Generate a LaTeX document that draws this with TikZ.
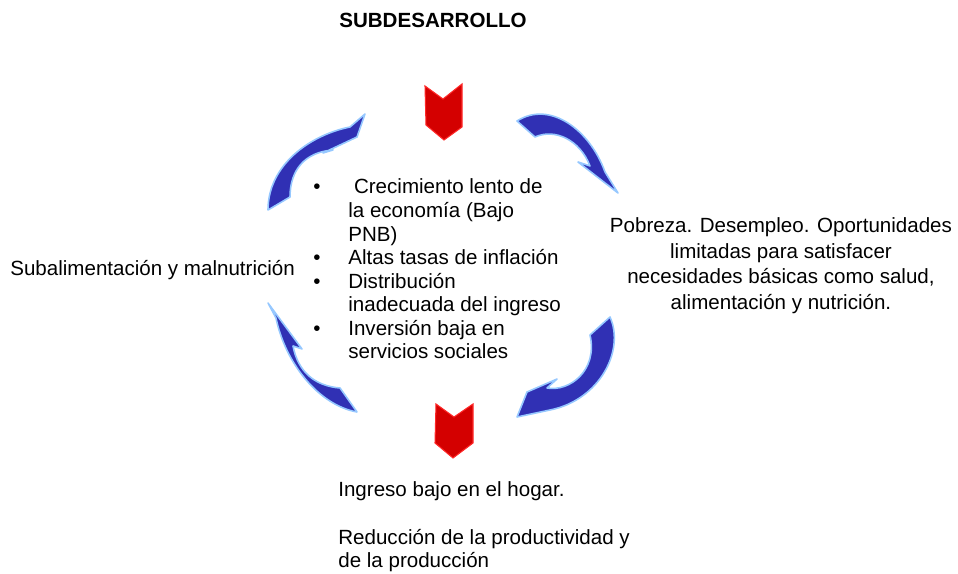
\documentclass[tikz,border=0pt]{standalone}
\usepackage{fontspec}
\setmainfont{Liberation Sans}
\usepackage{tikz}
\usetikzlibrary{positioning}
\definecolor{cyclefill}{RGB}{48,48,180}
\definecolor{cycleedge}{RGB}{150,200,255}
\definecolor{chevronred}{RGB}{212,0,0}
\definecolor{chevronedge}{RGB}{255,40,40}

\begin{document}
\begin{tikzpicture}[
    x=0.02cm, y=-0.02cm,
    txt/.style={inner sep=0pt, font=\fontsize{11.7}{13.4}\selectfont},
    curvedarrow/.style={fill=cyclefill, draw=cycleedge, line width=0.9pt, line join=round},
    chevron/.style={fill=chevronred, draw=chevronedge, line width=0.6pt}
]
    \useasboundingbox (0,0) rectangle (958,574);

    % Title
    \node[txt, font=\fontsize{11.7}{13.4}\selectfont\bfseries, anchor=base] (title) at (433,28) {SUBDESARROLLO};

    % Chevrons
    \draw[chevron] (425,86) -- (443,99) -- (462,84) -- (462,127) -- (444,140) -- (426,125) -- cycle;
    \draw[chevron] (436,404) -- (454,417) -- (473,404) -- (473,443) -- (453,458) -- (435,443) -- cycle;

    % Curved arrows of the cycle
    \draw[curvedarrow] (517,121) .. controls (550,100) and (590,130) .. (605,172) -- (618,193) -- (578,162) -- (590,166) .. controls (580,140) and (555,128) .. (535,137) -- cycle;
    \draw[curvedarrow] (610,317) .. controls (625,350) and (600,400) .. (550,410) -- (517,417) -- (527,392) -- (557,379) -- (547,388) .. controls (570,392) and (598,370) .. (590,335) -- cycle;
    \draw[curvedarrow] (357,412) .. controls (318,405) and (285,362) .. (276,318) -- (268,303) -- (302,349) -- (293,346) .. controls (298,372) and (315,386) .. (340,388) -- cycle;
    \draw[curvedarrow] (268,210) .. controls (268,165) and (310,135) .. (350,127) -- (365,114) -- (357,137) -- (323,153) -- (333,150) .. controls (305,152) and (290,170) .. (290,197) -- cycle;

    % Texts
    \node[txt, anchor=base west] (causes) at (313,194) {\begin{tabular}[t]{@{}p{0.7cm}@{}l@{}}
        \textbullet & \ Crecimiento lento de\\
                    & la economía (Bajo\\
                    & PNB)\\
        \textbullet & Altas tasas de inflación\\
        \textbullet & Distribución\\
                    & inadecuada del ingreso\\
        \textbullet & Inversión baja en\\
                    & servicios sociales
    \end{tabular}};
    \node[txt, font=\fontsize{11.7}{14.5}\selectfont, anchor=base] (poverty) at (781,233) {\begin{tabular}[t]{@{}c@{}}
        Pobreza. Desempleo. Oportunidades\\
        limitadas para satisfacer\\
        necesidades básicas como salud,\\
        alimentación y nutrición.
    \end{tabular}};
    \node[txt, anchor=base west] (income) at (338,497) {\begin{tabular}[t]{@{}l@{}}
        Ingreso bajo en el hogar.\\
        \\
        Reducción de la productividad y\\
        de la producción
    \end{tabular}};
    \node[txt, anchor=base west] (nutrition) at (10,276) {Subalimentación y malnutrición};
\end{tikzpicture}
\end{document}
